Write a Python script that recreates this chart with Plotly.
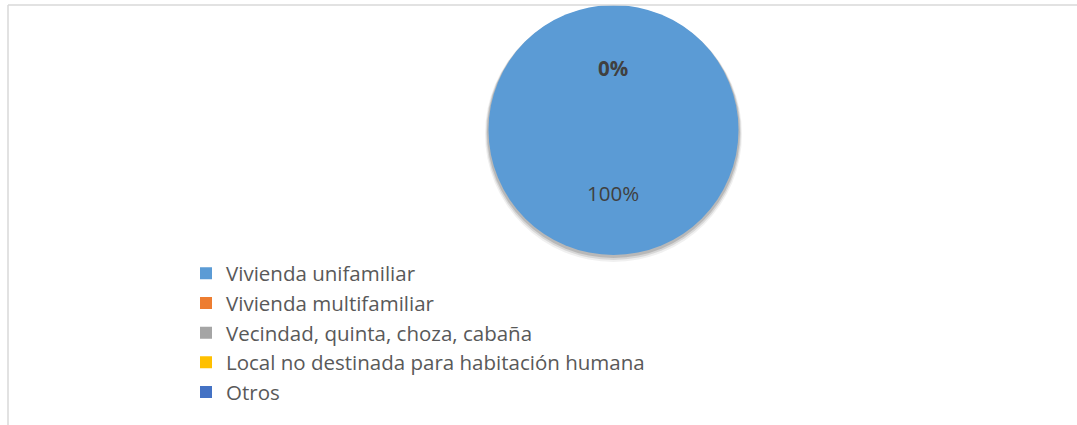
import plotly.graph_objects as go

# tipo de vivienda (porcentaje de encuestados)
labels = [
    "Vivienda unifamiliar",
    "Vivienda multifamiliar",
    "Vecindad, quinta, choza, cabaña",
    "Local no destinada para habitación humana",
    "Otros",
]
values = [100, 0, 0, 0, 0]
colors = ["#5B9BD5", "#ED7D31", "#A5A5A5", "#FFC000", "#4472C4"]

W, H = 1077, 425
FONT = "Open Sans"

total = sum(values)
pct = [v / total * 100 for v in values]

fig = go.Figure(go.Pie(
    labels=labels,
    values=values,
    marker=dict(colors=colors, line=dict(width=0)),
    sort=False,
    direction="clockwise",
    rotation=0,
    textinfo="none",
    hoverinfo="label+percent",
    domain=dict(x=[488 / W, 739 / W], y=[1 - 255 / H, 1 - 5 / H]),
    showlegend=True,
))

# soft shadow behind the pie (a few stacked translucent discs)
for grow, drop, alpha in [(3, 4, 0.06), (2, 3, 0.10), (1, 2, 0.14)]:
    fig.add_shape(
        type="circle", xref="paper", yref="paper", layer="below",
        x0=(488 - grow) / W, x1=(739 + grow) / W,
        y0=1 - (255 + drop + grow) / H, y1=1 - (5 + drop - grow) / H,
        fillcolor=f"rgba(0,0,0,{alpha})", line=dict(width=0),
    )

# chart-area frame (cut off at right and bottom)
fig.add_shape(type="line", xref="paper", yref="paper",
              x0=8 / W, x1=1.01, y0=1 - 5 / H, y1=1 - 5 / H,
              line=dict(color="#d9d9d9", width=1.5))
fig.add_shape(type="line", xref="paper", yref="paper",
              x0=8 / W, x1=8 / W, y0=1 - 5 / H, y1=-0.01,
              line=dict(color="#d9d9d9", width=1.5))

# data labels: the zero slices stack at the top, the full slice sits below centre
zero_txt = f"{min(pct):.0f}%"
fig.add_annotation(x=613 / W, y=1 - 68 / H, xref="paper", yref="paper",
                   xanchor="center", yanchor="middle",
                   text=f"<b>{zero_txt}</b>", showarrow=False,
                   font=dict(family=FONT, size=20.5, color="#404040"))
fig.add_annotation(x=613 / W, y=1 - 193 / H, xref="paper", yref="paper",
                   xanchor="center", yanchor="middle",
                   text=f"{max(pct):.0f}%", showarrow=False,
                   font=dict(family=FONT, size=20.5, color="#404040"))

fig.update_layout(
    width=W,
    height=H,
    margin=dict(l=0, r=0, t=0, b=0),
    paper_bgcolor="white",
    plot_bgcolor="white",
    legend=dict(
        x=186 / W, xanchor="left",
        y=1 - 253.5 / H, yanchor="top",
        font=dict(family=FONT, size=20.5, color="#595959"),
        bgcolor="rgba(0,0,0,0)",
        itemclick=False,
    ),
)

fig.write_html("out.html", config={"displayModeBar": False},
               post_script="document.body.style.margin='0';")
